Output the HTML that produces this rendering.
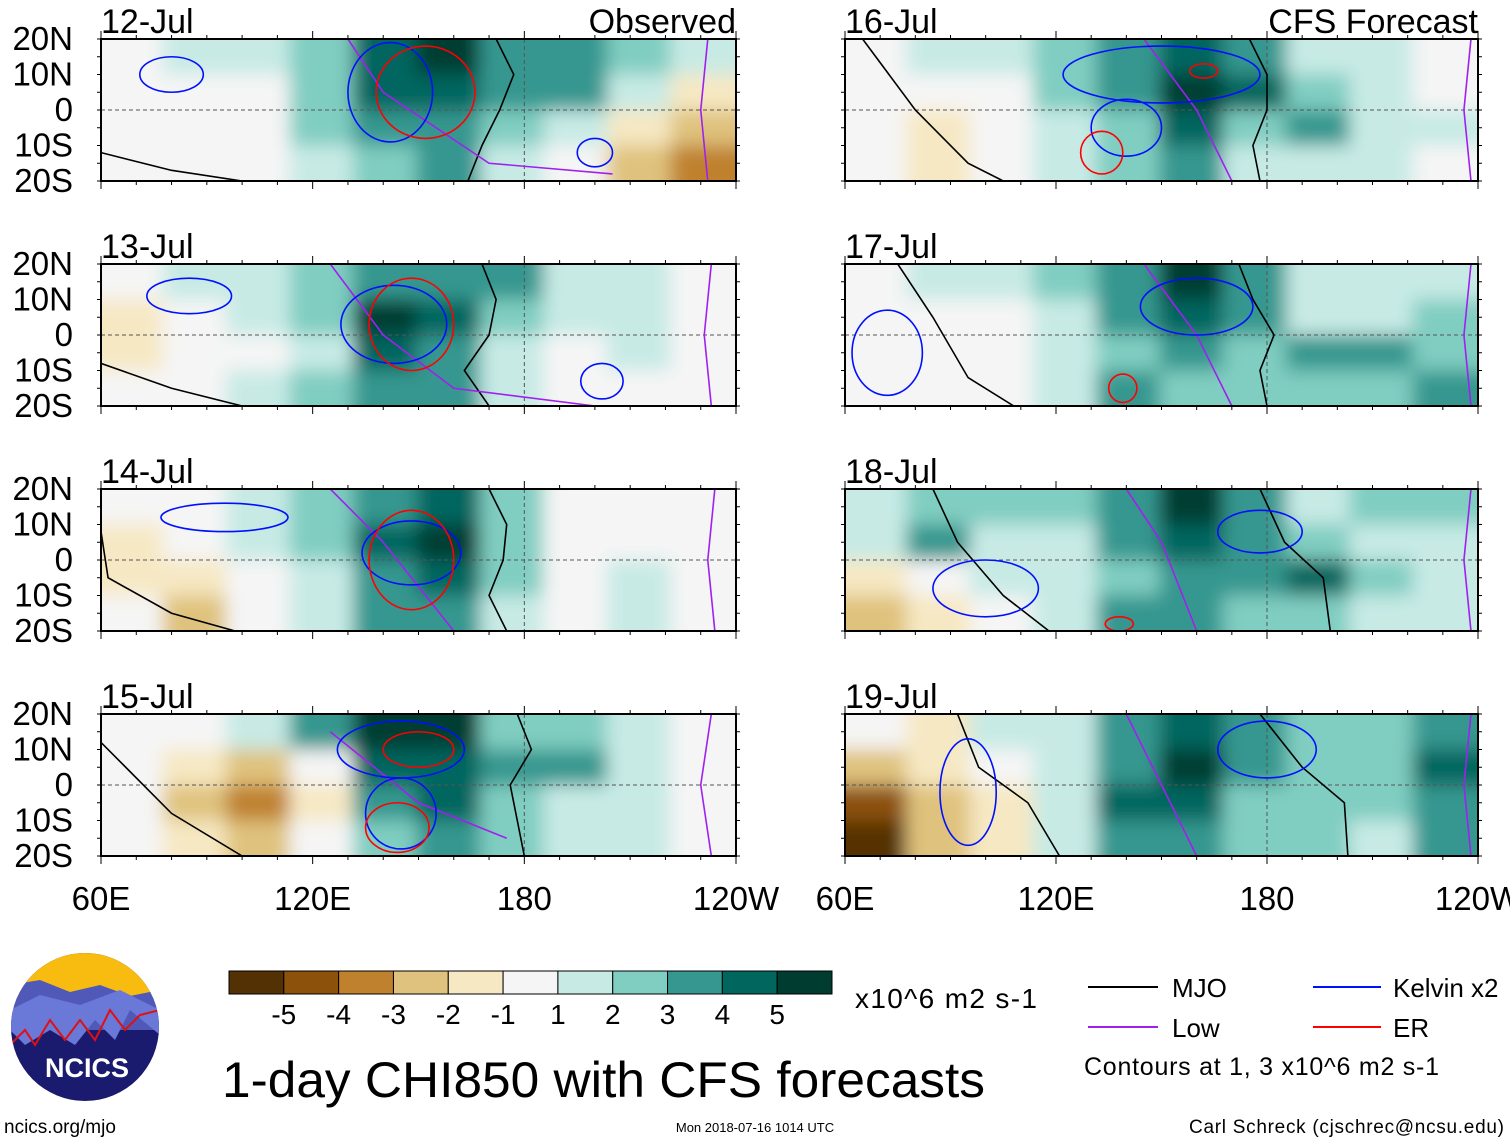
<!DOCTYPE html>
<html><head><meta charset="utf-8"><style>
body{margin:0;background:#fff;width:1510px;height:1142px;overflow:hidden;font-family:"Liberation Sans",sans-serif}
svg text{font-family:"Liberation Sans",sans-serif}
</style></head><body>
<svg id="chart" width="1510" height="1142">
<defs><filter id="bl" x="-10%" y="-10%" width="120%" height="120%"><feGaussianBlur stdDeviation="9"/></filter></defs>
<g id="panels"></g>
<g id="bottom"></g>
</svg>
<script>
const dates=["12-Jul","13-Jul","14-Jul","15-Jul","16-Jul","17-Jul","18-Jul","19-Jul"];
const latLabels=["20N","10N","0","10S","20S"];
const lonLabels=["60E","120E","180","120W"];
const cbLabels=["-5","-4","-3","-2","-1","1","2","3","4","5"];
const cbColors=["#543005","#8c510a","#bf812d","#dfc27d","#f6e8c3","#f5f5f5","#c7eae5","#80cdc1","#35978f","#01665e","#003c30"];
// grid values: 4 lat rows (20N..20S) x 10 lon columns (60E..240E)
const g12=[[0,1,1,2,4,5,3,3,2,1],[0,0,0,2,4,4,3,3,1,-1],[0,0,0,2,3,3,2,1,-1,-2],[0,0,0,1,2,3,1,0,-2,-3]];
const g13=[[0,1,1,2,3,3,3,1,1,0],[-1,0,1,2,5,4,2,1,1,0],[-1,0,0,1,4,3,1,0,1,0],[0,0,1,2,3,3,1,0,0,0]];
const g14=[[0,0,1,2,3,4,2,0,0,0],[-1,0,1,2,4,5,2,0,0,0],[-1,-1,0,1,3,4,2,0,1,0],[0,-2,0,1,3,3,1,0,1,0]];
const g15=[[0,0,1,3,5,5,2,2,1,0],[0,-1,-2,0,4,4,3,3,1,0],[0,-2,-3,-1,3,4,2,1,1,0],[0,-1,-2,0,2,3,2,1,1,0]];
const g16=[[0,1,1,2,3,4,3,1,1,0],[0,0,0,2,3,5,4,2,1,0],[0,-1,0,1,2,4,2,3,1,1],[0,-1,0,1,2,3,1,1,1,0]];
const g17=[[0,1,1,2,3,5,3,1,1,1],[0,0,0,1,3,4,3,1,1,2],[0,0,0,1,2,3,2,3,3,2],[0,0,0,1,3,2,2,2,2,3]];
const g18=[[1,2,2,2,3,5,3,1,2,2],[1,3,1,1,3,4,3,2,1,1],[-1,0,1,1,2,3,3,4,2,1],[-2,-1,0,1,3,3,2,2,1,1]];
const g19=[[0,-1,1,1,3,4,3,2,2,3],[-2,-1,0,1,3,5,3,2,2,4],[-4,-2,-1,1,4,4,2,2,2,3],[-5,-2,-1,1,3,3,2,2,1,3]];
const grids=[g12,g13,g14,g15,g16,g17,g18,g19];
// MJO contour lines [lon,lat]
const mjo=[[[[172,20],[177,10],[173,0],[168,-10],[164,-20]],[[60,-12],[80,-17],[100,-20]]],
[[[168,20],[172,10],[170,0],[163,-10],[170,-20]],[[60,-8],[80,-15],[100,-20]]],
[[[170,20],[175,10],[174,0],[170,-10],[175,-20]],[[60,8],[62,-5],[80,-15],[98,-20]]],
[[[178,20],[182,10],[176,0],[178,-10],[180,-20]],[[60,12],[80,-8],[100,-20]]],
[[[175,20],[180,10],[180,0],[176,-10],[178,-20]],[[65,20],[80,0],[95,-15],[105,-20]]],
[[[172,20],[176,10],[182,0],[178,-10],[180,-20]],[[75,20],[85,5],[95,-12],[108,-20]]],
[[[178,20],[185,5],[196,-5],[198,-20]],[[85,20],[92,5],[105,-10],[118,-20]]],
[[[178,20],[190,5],[202,-5],[203,-20]],[[92,20],[98,5],[112,-5],[121,-20]]]];
const low=[[[130,20],[140,5],[170,-15],[205,-18]],[[125,20],[140,0],[160,-15],[200,-20]],[[125,20],[140,5],[160,-20]],[[125,15],[150,-5],[175,-15]],[[145,20],[160,0],[170,-20]],[[145,20],[160,0],[170,-20]],[[140,20],[150,5],[160,-20]],[[140,20],[150,0],[160,-20]]];
const lowE=[[[232,20],[230,0],[232,-20]],[[233,20],[231,0],[233,-20]],[[234,20],[232,0],[234,-20]],[[233,20],[230,0],[233,-20]],[[238,20],[236,0],[238,-20]],[[238,20],[236,0],[238,-20]],[[238,20],[236,0],[238,-20]],[[238,20],[236,0],[238,-20]]];
// Kelvin ellipses [lon,lat,rx(deg),ry(deg)]
const kelvin=[[[80,10,9,5],[142,5,12,14],[200,-12,5,4]],[[85,11,12,5],[143,3,15,11],[202,-13,6,5]],[[95,12,18,4],[148,2,14,9]],[[145,10,18,8],[145,-8,10,10]],[[150,10,28,8],[140,-5,10,8]],[[160,8,16,8],[72,-5,10,12]],[[178,8,12,6],[100,-8,15,8]],[[180,10,14,8],[95,-2,8,15]]];
const er=[[[152,5,14,13]],[[148,3,12,13]],[[148,0,12,14]],[[150,10,10,5],[144,-12,9,7]],[[133,-12,6,6],[162,11,4,2]],[[139,-15,4,4]],[[138,-18,4,2]],[]];
const NS="http://www.w3.org/2000/svg";
function mk(tag,attrs,parent,text){const e=document.createElementNS(NS,tag);for(const k in attrs)e.setAttribute(k,attrs[k]);if(text!==undefined)e.textContent=text;parent.appendChild(e);return e;}
function colorFor(v){return cbColors[Math.max(0,Math.min(10,v+5))];}
const tops=[39,264,489,714],H=142;
const lefts=[101,845],W=[635,633];
const root=document.getElementById('panels');
dates.forEach((d,i)=>{
  const col=i<4?0:1,row=i%4;
  const x0=lefts[col],w=W[col],y0=tops[row];
  const X=lon=>x0+(lon-60)/180*w, Y=lat=>y0+(20-lat)/40*H;
  const g=mk('g',{},root);
  
  
  const cid='c'+i;
  const cp=mk('clipPath',{id:cid},g);mk('rect',{x:x0,y:y0,width:w,height:H},cp);
  const fg=mk('g',{'clip-path':`url(#${cid})`},g);
  mk('rect',{x:x0,y:y0,width:w,height:H,fill:'#f5f5f5'},fg);
  const bg=mk('g',{filter:'url(#bl)'},fg);
  grids[i].forEach((r,ri)=>r.forEach((v,ci)=>{
    const c=mk('rect',{x:X(60+ci*18)-2-(ci==0?20:0),y:Y(20-ri*10)-(ri==0?20:0),width:w/10+4+(ci==0||ci==9?20:0),height:H/4+(ri==0||ri==3?20:0),fill:colorFor(v)},bg);
    
    
  }));
  mk('line',{x1:x0,x2:x0+w,y1:Y(0),y2:Y(0),stroke:'#555','stroke-dasharray':'4,3','stroke-width':1},fg);
  mk('line',{x1:X(180),x2:X(180),y1:y0,y2:y0+H,stroke:'#555','stroke-dasharray':'4,3','stroke-width':1},fg);
  const line=(pts,c)=>{const p=mk('polyline',{points:pts.map(q=>X(q[0])+','+Y(q[1])).join(' '),fill:'none',stroke:c,'stroke-width':1.6},fg);return p;};
  mjo[i].forEach(p=>{const l=line(p,'#000');});
  const lp=line(low[i],'#a020f0');
  const le=line(lowE[i],'#a020f0');
  kelvin[i].forEach(k=>{const e=mk('ellipse',{cx:X(k[0]),cy:Y(k[1]),rx:k[2]/180*w,ry:k[3]/40*H,fill:'none',stroke:'#0010ff','stroke-width':1.6},fg);});
  er[i].forEach(k=>{const e=mk('ellipse',{cx:X(k[0]),cy:Y(k[1]),rx:k[2]/180*w,ry:k[3]/40*H,fill:'none',stroke:'#f00','stroke-width':1.6},fg);});
  mk('rect',{x:x0,y:y0,width:w,height:H,fill:'none',stroke:'#000','stroke-width':2},g);
  for(let lon=60;lon<=240;lon+=10){const tl=lon%60==0?8:4;mk('line',{x1:X(lon),x2:X(lon),y1:y0,y2:y0-tl,stroke:'#000'},g);mk('line',{x1:X(lon),x2:X(lon),y1:y0+H,y2:y0+H+tl,stroke:'#000'},g);}
  for(let lat=-20;lat<=20;lat+=5){mk('line',{x1:x0-4,x2:x0,y1:Y(lat),y2:Y(lat),stroke:'#000'},g);mk('line',{x1:x0+w,x2:x0+w+4,y1:Y(lat),y2:Y(lat),stroke:'#000'},g);}
  const t=mk('text',{x:x0,y:y0-6,'font-size':34,fill:'#000'},g,d);
  
  if(i==0){const o=mk('text',{x:x0+w,y:y0-6,'font-size':34,'text-anchor':'end'},g,'Observed');}
  if(i==4){const o=mk('text',{x:x0+w,y:y0-6,'font-size':34,'text-anchor':'end'},g,'CFS Forecast');}
  if(col==0){latLabels.forEach((l,k)=>{const tt=mk('text',{x:73,y:Y(20-k*10)+11,'font-size':33,'text-anchor':'end'},g,l);});}
  if(row==3){lonLabels.forEach((l,k)=>{const tt=mk('text',{x:X(60+k*60),y:910,'font-size':33,'text-anchor':'middle'},g,l);});}
});
// colorbar
const b=document.getElementById('bottom');
const cbx=229,cbw=603/11;
cbColors.forEach((c,k)=>{const r=mk('rect',{x:cbx+k*cbw,y:971,width:cbw,height:23,fill:c,stroke:'#000','stroke-width':1},b);});
cbLabels.forEach((l,k)=>{const t=mk('text',{x:cbx+(k+1)*cbw,y:1024,'font-size':28,'text-anchor':'middle'},b,l);});
</script>
<svg width="1510" height="1142" style="position:absolute;left:0;top:0">
<g>
<clipPath id="lg"><ellipse cx="85" cy="1027" rx="74" ry="74"/></clipPath>
<g clip-path="url(#lg)">
<rect x="10" y="952" width="150" height="150" fill="#1a1a6e"/>
<rect x="10" y="952" width="150" height="45" fill="#f8bc10"/>
<polygon points="10,985 40,980 70,992 100,985 130,996 160,990 160,1030 10,1030" fill="#5058b8"/>
<polygon points="10,1010 40,995 80,1005 120,990 160,1010 160,1035 130,1010 115,1040 95,1020 75,1045 50,1030 25,1045 10,1030" fill="#6a78d8"/>
<polyline points="10,1045 25,1030 35,1045 50,1020 65,1040 80,1020 95,1040 110,1010 125,1030 140,1015 160,1010" fill="none" stroke="#e01010" stroke-width="2"/>
</g>
<text x="87" y="1077" font-size="27" font-weight="bold" fill="#fff" text-anchor="middle">NCICS</text>
</g>
<text x="855" y="1008" font-size="28" textLength="182">x10^6 m2 s-1</text>
<text x="222" y="1097" font-size="50" textLength="763" lengthAdjust="spacingAndGlyphs">1-day CHI850 with CFS forecasts</text>
<g>
<line x1="1088" x2="1158" y1="987" y2="987" stroke="#000" stroke-width="2"/><text x="1172" y="997" font-size="26">MJO</text>
<line x1="1313" x2="1381" y1="987" y2="987" stroke="#0010ff" stroke-width="2"/><text x="1393" y="997" font-size="26">Kelvin x2</text>
<line x1="1088" x2="1158" y1="1027" y2="1027" stroke="#a020f0" stroke-width="2"/><text x="1172" y="1037" font-size="26">Low</text>
<line x1="1313" x2="1381" y1="1027" y2="1027" stroke="#f00" stroke-width="2"/><text x="1393" y="1037" font-size="26">ER</text>
<text x="1084" y="1075" font-size="25" textLength="355">Contours at 1, 3 x10^6 m2 s-1</text>
</g>
<text x="4" y="1133" font-size="19">ncics.org/mjo</text>
<text x="755" y="1132" font-size="13" text-anchor="middle">Mon 2018-07-16 1014 UTC</text>
<text x="1504" y="1133" font-size="19" text-anchor="end" textLength="315">Carl Schreck (cjschrec@ncsu.edu)</text>
</svg>
</body></html>
